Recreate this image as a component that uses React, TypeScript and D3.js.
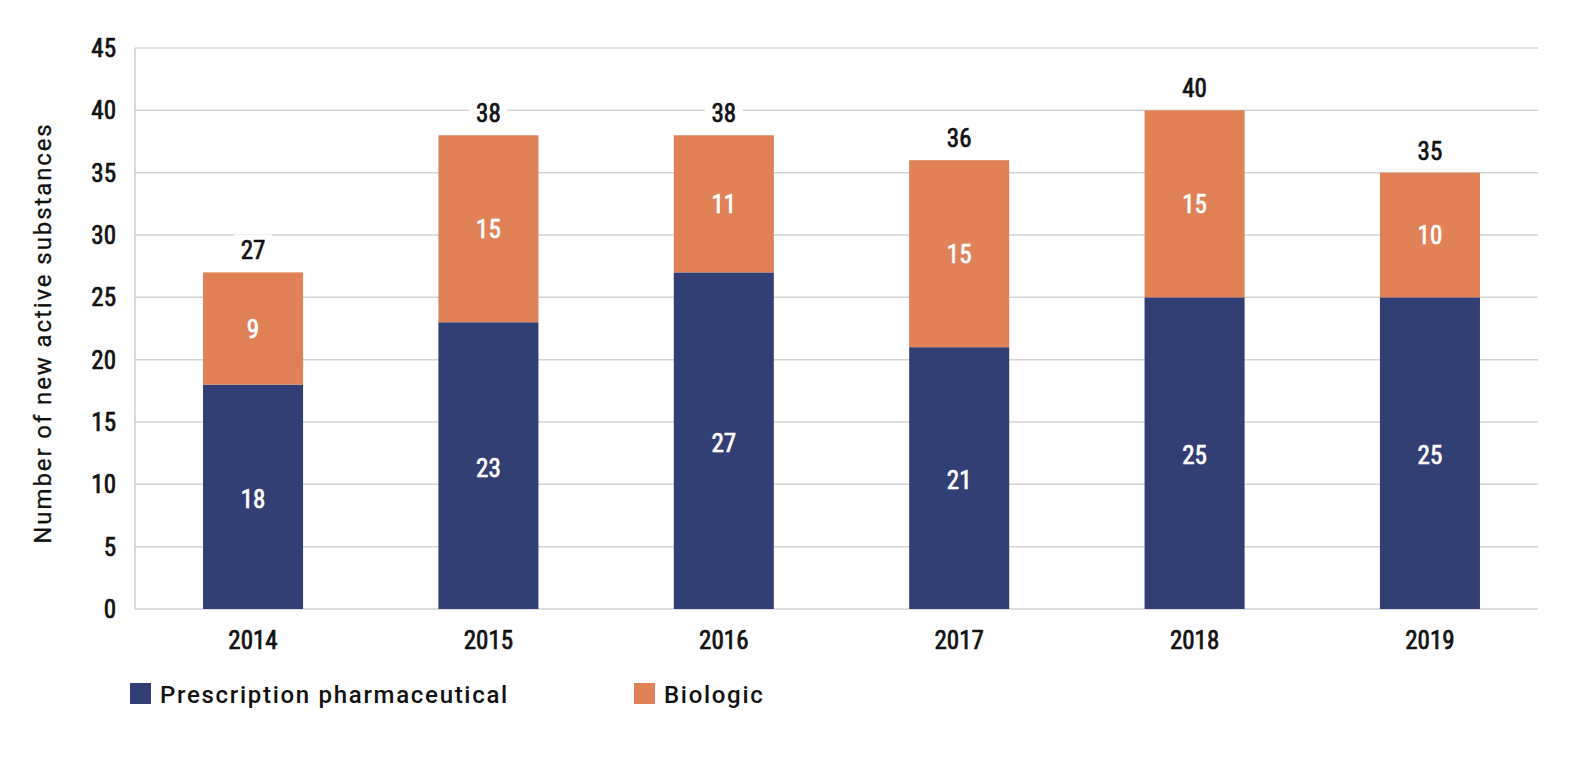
import * as d3 from "d3";

const years = ["2014", "2015", "2016", "2017", "2018", "2019"];
const pharma = [18, 23, 27, 21, 25, 25];
const biologic = [9, 15, 11, 15, 15, 10];
const yTicks = [0, 5, 10, 15, 20, 25, 30, 35, 40, 45];
const seriesNames = ["Prescription pharmaceutical", "Biologic"];

const NAVY = "#323f74";
const ORANGE = "#e08157";
const NUM_FONT = "'Liberation Sans Narrow', 'Roboto Condensed', Roboto, sans-serif";
const TXT_FONT = "Roboto, 'Noto Sans', sans-serif";

export default function App() {
  const width = 1570;
  const height = 768;
  const plotLeft = 135;
  const plotRight = 1538;

  const x = d3.scaleBand<string>()
    .domain(years)
    .range([plotLeft, 1548])
    .paddingInner(0.575)
    .paddingOuter(0.289);

  const y = d3.scaleLinear()
    .domain([0, 45])
    .range([609, 48]);

  const rows = years.map((yr, i) => ({ yr, p: pharma[i], b: biologic[i], total: pharma[i] + biologic[i] }));

  // medium-ish weight: regular narrow glyphs with a thin stroke of the same colour
  const heavy = (c: string) => ({ fill: c, stroke: c, strokeWidth: 0.7 });

  return (
    <svg width={width} height={height} style={{ position: "absolute", left: 0, top: 0, background: "#fff" }}>
      {/* grid */}
      {yTicks.map(t => (
        <line key={t} x1={plotLeft} x2={plotRight} y1={y(t)} y2={y(t)} stroke="#d3d3d3" strokeWidth={1.5} />
      ))}
      <line x1={plotLeft} x2={plotLeft} y1={y(45)} y2={y(0)} stroke="#cfcfcf" strokeWidth={1.5} />

      {/* y tick labels */}
      {yTicks.map(t => (
        <text key={t} x={116} y={y(t)} dy="0.36em" textAnchor="end" fontSize={25} fontFamily={NUM_FONT} {...heavy("#111")}>{t}</text>
      ))}
      <text transform={`translate(51,333) rotate(-90)`} textAnchor="middle" fontSize={24} fontFamily={TXT_FONT} letterSpacing={1.9} fill="#111" stroke="#111" strokeWidth={0.3}>
        Number of new active substances
      </text>

      {/* bars */}
      {rows.map(r => {
        const bx = x(r.yr)!;
        const bw = x.bandwidth();
        const cx = bx + bw / 2;
        return (
          <g key={r.yr} fontFamily={NUM_FONT} fontSize={25}>
            <rect x={bx} width={bw} y={y(r.p)} height={y(0) - y(r.p)} fill={NAVY} />
            <rect x={bx} width={bw} y={y(r.total)} height={y(r.p) - y(r.total)} fill={ORANGE} />
            <text x={cx} y={y(r.p / 2) + 2} dy="0.36em" textAnchor="middle" {...heavy("#fff")}>{r.p}</text>
            <text x={cx} y={y(r.p + r.b / 2)} dy="0.36em" textAnchor="middle" {...heavy("#fff")}>{r.b}</text>
            <rect x={cx - 19} y={y(r.total) - 38} width={38} height={30} fill="#fff" />
            <text x={cx} y={y(r.total) - 22} dy="0.36em" textAnchor="middle" {...heavy("#111")}>{r.total}</text>
            <text x={cx} y={640} dy="0.36em" textAnchor="middle" {...heavy("#111")}>{r.yr}</text>
          </g>
        );
      })}

      {/* legend */}
      {seriesNames.map((name, i) => {
        const lx = i === 0 ? 130 : 634;
        return (
          <g key={name}>
            <rect x={lx} y={683} width={21} height={21} fill={i === 0 ? NAVY : ORANGE} />
            <text x={lx + 30} y={694} dy="0.36em" fontSize={24} fontWeight={500} fontFamily={TXT_FONT} letterSpacing={1.7} fill="#111">{name}</text>
          </g>
        );
      })}
    </svg>
  );
}
